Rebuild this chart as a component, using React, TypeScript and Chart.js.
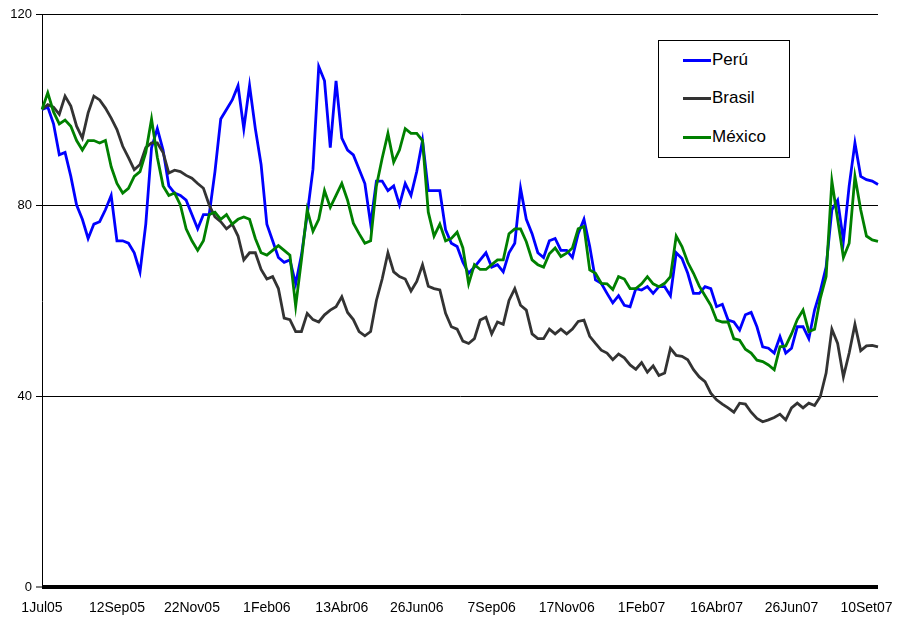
import React, { useEffect, useRef } from "react";
import { Chart, registerables } from "chart.js";
Chart.register(...registerables);

const tickLabels = ["1Jul05", "12Sep05", "22Nov05", "1Feb06", "13Abr06", "26Jun06", "7Sep06", "17Nov06", "1Feb07", "16Abr07", "26Jun07", "10Set07"];
const samplesPerLabel = 13;

const peru = [
  100, 100.5, 97, 90.5, 91, 86, 80, 77, 73, 76, 76.5, 79, 82, 72.5, 72.5, 72,
  70, 66, 76, 92, 96, 91.5, 84, 82.5, 82, 81, 78, 75, 78, 78, 87, 98,
  100, 102, 105, 96, 105, 96, 88.5, 76, 72.5, 69, 68, 68.5, 63.5, 69.5, 78, 87.5,
  109, 106, 92, 106, 94, 91.5, 90.5, 87.5, 84.5, 76, 85, 85, 83, 84, 80, 84.5,
  82, 87, 93.5, 83, 83, 83, 74.8, 72, 71.3, 68, 65.7, 67, 68.5, 70, 67, 67.5,
  66, 70, 72, 83.5, 77, 74, 70, 69, 72.5, 73, 70.5, 70.5, 69, 74, 77, 71.3,
  64.3, 63.6, 61.5, 59.5, 61, 59, 58.7, 62.5, 62.2, 62.9, 61.5, 62.9, 62.9, 61, 70, 68.8,
  65.7, 61.5, 61.5, 62.9, 62.5, 58.7, 59.2, 55.9, 55.5, 53.8, 57, 57.5, 54.5, 50.3, 50, 49,
  52.4, 49, 50, 54.5, 54.5, 52, 58, 62, 67, 79, 81, 72.5, 84, 93, 86, 85.3,
  85, 84.3
];

const brasil = [
  100, 101, 100.5, 99, 102.8, 100.7, 96.5, 94, 99.3, 102.8, 102, 100.3, 98.2, 95.8, 92.3, 89.9,
  87.4, 88.5, 92, 93, 93, 91, 86.7, 87.3, 87, 86.2, 85.6, 84.5, 83.5, 80, 77.5, 76.5,
  75, 76, 73.5, 68.5, 70, 70, 66.5, 64.5, 65, 62.5, 56.3, 56, 53.5, 53.5, 57.3, 56,
  55.5, 57, 58, 58.7, 60.8, 57.5, 56, 53.5, 52.6, 53.5, 60, 64.5, 70, 66, 65, 64.5,
  62, 64, 67.5, 63, 62.5, 62.2, 57.3, 54.5, 54, 51.5, 51, 52, 55.9, 56.5, 53, 55.5,
  55, 60, 62.5, 59, 58, 53, 52, 52, 54, 53, 54, 53, 54, 55.6, 55.9, 52.5,
  51, 49.6, 49, 47.6, 48.8, 48, 46.5, 45.6, 47, 45, 46.3, 44.3, 44.8, 50, 48.5, 48.3,
  47.6, 45.5, 44, 43, 40.6, 39.2, 38.3, 37.5, 36.6, 38.5, 38.3, 36.6, 35.3, 34.6, 35, 35.5,
  36.2, 35, 37.5, 38.5, 37.5, 38.5, 38, 39.9, 44.8, 54, 51, 44, 49, 55, 49.5, 50.5,
  50.6, 50.3
];

const mexico = [
  100, 103.5, 99.5, 97, 97.8, 96.5, 93.5, 91.5, 93.5, 93.5, 93, 93.5, 88, 84.5, 82.5, 83.5,
  86, 87, 91, 98, 90, 84, 82, 82.5, 80, 75, 72.5, 70.5, 72.5, 78, 78.5, 77,
  78, 76, 77, 77.5, 77, 73, 70, 69.5, 70.5, 71.5, 70.5, 69.5, 58.8, 68.5, 79, 74.5,
  77, 83, 79.5, 82, 84.5, 81, 76.2, 74, 72, 72.5, 84, 89.8, 95, 89, 91.5, 96,
  95, 95, 93.5, 78.5, 73.5, 76, 72.5, 73, 74.3, 71, 63.5, 67.5, 66.5, 66.5, 67.5, 68.5,
  68.5, 74, 75, 75, 72.3, 68.5, 67.5, 67, 69.8, 71, 69.2, 69.9, 71, 75, 75.5, 66.4,
  65.7, 63.6, 63.5, 62.3, 65, 64.5, 62.5, 62.5, 63.5, 65, 63.5, 62.9, 63.6, 65, 73.5, 71.3,
  68, 65.7, 63, 61, 59, 55.9, 55.5, 55.5, 52, 51.7, 49.8, 49, 47.5, 47.2, 46.5, 45.5,
  50.3, 50.5, 53, 56, 58, 53.5, 54, 60.5, 65, 85, 77, 69, 72, 86, 79, 73.5,
  72.7, 72.4
];

const categories = peru.map((_, i) =>
  i % samplesPerLabel === 0 && tickLabels[i / samplesPerLabel] ? tickLabels[i / samplesPerLabel] : ""
);

const seriesNames = ["Perú", "Brasil", "México"];
const seriesColors = ["#0000ff", "#333333", "#008000"];

export default function App() {
  const canvasRef = useRef<HTMLCanvasElement | null>(null);

  useEffect(() => {
    const canvas = canvasRef.current;
    if (!canvas) return;
    const chart = new Chart(canvas, {
      type: "line",
      data: {
        labels: categories,
        datasets: [peru, brasil, mexico].map((d, k) => ({
          label: seriesNames[k],
          data: d,
          borderColor: seriesColors[k],
          backgroundColor: seriesColors[k],
          borderWidth: 2.8,
          pointRadius: 0,
          tension: 0,
          order: 3 - k,
        })),
      },
      options: {
        animation: false,
        responsive: false,
        maintainAspectRatio: false,
        layout: { padding: { left: 0, right: 21, top: 14, bottom: 0 } },
        plugins: { legend: { display: false }, tooltip: { enabled: false } },
        scales: {
          x: {
            type: "category",
            grid: { display: false },
            border: { display: false },
            ticks: {
              autoSkip: false,
              maxRotation: 0,
              minRotation: 0,
              color: "#000",
              padding: 5,
              font: { family: "'Liberation Sans', Arial, sans-serif", size: 14 },
            },
            afterFit: (s: any) => { s.height = 33; },
          },
          y: {
            min: 0,
            max: 120,
            ticks: {
              stepSize: 40,
              color: "#000",
              padding: 4,
              font: { family: "'Liberation Sans', Arial, sans-serif", size: 13 },
            },
            grid: {
              color: "#000",
              lineWidth: (ctx: any) => (ctx.tick && ctx.tick.value === 0 ? 4 : 1),
              tickLength: 6,
              tickWidth: 1,
              tickColor: "#000",
            },
            border: { color: "#000", width: 1 },
            afterFit: (s: any) => { s.width = 42; },
          },
        },
      },
    });
    return () => chart.destroy();
  }, []);

  const legendRows = [60, 98, 137];

  return (
    <div style={{ position: "absolute", left: 0, top: 0, width: 899, height: 620, background: "#fff" }}>
      <canvas ref={canvasRef} width={899} height={620} style={{ width: 899, height: 620, display: "block" }} />
      <div
        style={{
          position: "absolute",
          left: 658,
          top: 40,
          width: 130,
          height: 116,
          border: "1px solid #000",
          background: "#fff",
        }}
      >
        {seriesNames.map((name, k) => (
          <React.Fragment key={name}>
            <div
              style={{
                position: "absolute",
                left: 24,
                top: legendRows[k] - 41 - 1.5,
                width: 28,
                height: 3,
                background: seriesColors[k],
              }}
            />
            <div
              style={{
                position: "absolute",
                left: 53,
                top: legendRows[k] - 41 - 10,
                height: 20,
                lineHeight: "20px",
                fontFamily: "'Liberation Sans', Arial, sans-serif",
                fontSize: 17,
                color: "#000",
                whiteSpace: "nowrap",
              }}
            >
              {name}
            </div>
          </React.Fragment>
        ))}
      </div>
    </div>
  );
}
